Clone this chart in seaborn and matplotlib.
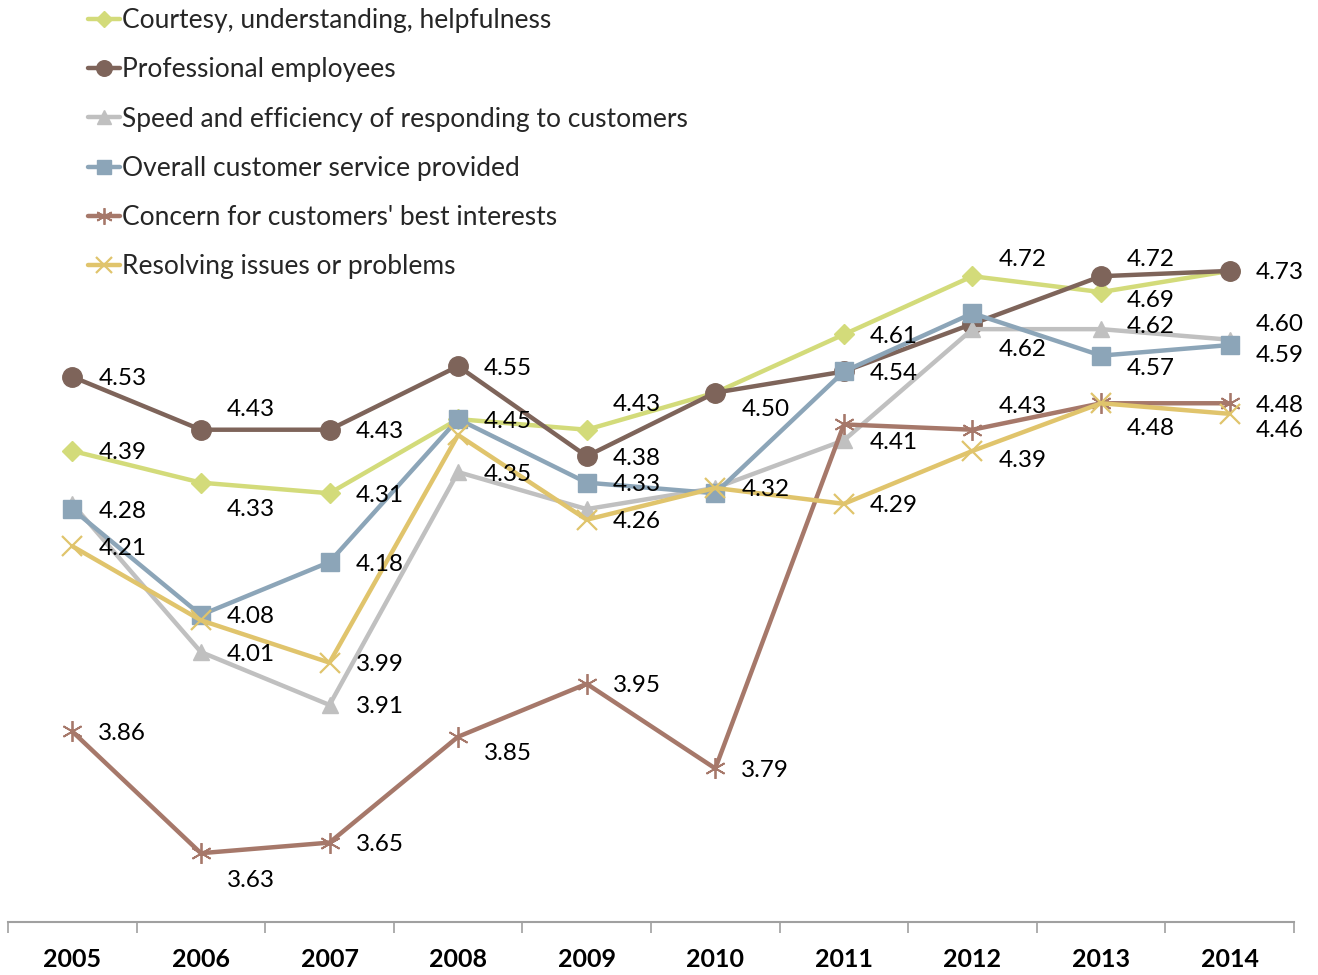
import matplotlib
matplotlib.use("Agg")
import matplotlib.pyplot as plt
import seaborn as sns
import pandas as pd

# ---- data -------------------------------------------------------------
years = [2005, 2006, 2007, 2008, 2009, 2010, 2011, 2012, 2013, 2014]

series_names = [
    "Courtesy, understanding, helpfulness",
    "Professional employees",
    "Speed and efficiency of responding to customers",
    "Overall customer service provided",
    "Concern for customers' best interests",
    "Resolving issues or problems",
]

courtesy     = [4.39, 4.33, 4.31, 4.45, 4.43, 4.50, 4.61, 4.72, 4.69, 4.73]
professional = [4.53, 4.43, 4.43, 4.55, 4.38, 4.50, 4.54, 4.63, 4.72, 4.73]
speed        = [4.29, 4.01, 3.91, 4.35, 4.28, 4.32, 4.41, 4.62, 4.62, 4.60]
overall      = [4.28, 4.08, 4.18, 4.45, 4.33, 4.31, 4.54, 4.65, 4.57, 4.59]
concern      = [3.86, 3.63, 3.65, 3.85, 3.95, 3.79, 4.44, 4.43, 4.48, 4.48]
resolving    = [4.21, 4.07, 3.99, 4.42, 4.26, 4.32, 4.29, 4.39, 4.48, 4.46]

all_values = [courtesy, professional, speed, overall, concern, resolving]

# ---- styling ----------------------------------------------------------
colors = ["#D3DB7A", "#7E645A", "#C0C0C0", "#8CA5B8", "#A6786A", "#E0C46C"]
markers = ["D", "o", "^", "s", (6, 2, 0), "x"]
msizes = [10, 14, 12, 13, 15, 14]
mews = [1, 1, 1, 1, 1.3, 1.6]

# which points carry a value label, and the label's vertical shift (pixels, +down)
label_shift = [
    {0: 0, 1: 25, 2: 0, 3: 0, 4: -27, 6: 0, 7: -19, 8: 6},
    {0: 0, 1: -22, 2: 0, 3: 0, 4: 0, 5: 15, 8: -19, 9: 0},
    {1: 0, 2: 0, 3: 0, 6: 0, 7: 18, 8: -5, 9: -17},
    {0: 0, 1: 0, 2: 0, 4: 0, 6: 0, 8: 11, 9: 8},
    {0: 0, 1: 25, 2: 0, 3: 15, 4: 0, 5: 0, 7: -25, 9: 0},
    {0: 0, 2: 0, 4: 0, 5: 0, 6: 0, 7: 8, 8: 23, 9: 15},
]

sns.set_theme(style="white")
plt.rcParams["font.family"] = ["Lato", "DejaVu Sans"]

W, H = 1318, 975
fig = plt.figure(figsize=(W / 100, H / 100), dpi=100)
ax = fig.add_axes([8 / W, (H - 922) / H, 1286 / W, (922 - 128) / H])

xpos = list(range(len(years)))
for name, vals, c, m, ms, mew in zip(series_names, all_values, colors, markers, msizes, mews):
    df = pd.DataFrame({"x": xpos, "value": vals})
    sns.lineplot(
        data=df, x="x", y="value", ax=ax, color=c, linewidth=3.2,
        marker=m, markersize=ms, markeredgecolor=c, markerfacecolor=c,
        markeredgewidth=mew, label=name,
    )

for vals, shifts in zip(all_values, label_shift):
    for i, dy in shifts.items():
        ax.annotate(f"{vals[i]:.2f}", (i, vals[i]), xytext=(26, -dy - 2),
                    textcoords="offset pixels", ha="left", va="center",
                    fontsize=17.5, color="black")

ax.set_xlim(-0.5, 9.5)
ax.set_ylim(3.5, 5.0)
ax.set_xlabel("")
ax.set_ylabel("")
ax.set_yticks([])
ax.set_xticks(xpos)
ax.set_xticklabels([str(y) for y in years], fontsize=18, fontweight="bold", color="black")
ax.set_xticks([i - 0.5 for i in range(len(years) + 1)], minor=True)
ax.tick_params(axis="x", which="major", bottom=False, length=0, pad=19)
ax.tick_params(axis="x", which="minor", bottom=True, length=8, width=1.2,
               color="#A0A0A0", direction="out")
for s in ["left", "top", "right"]:
    ax.spines[s].set_visible(False)
ax.spines["bottom"].set_color("#A0A0A0")
ax.spines["bottom"].set_linewidth(1.5)

ax.get_legend().remove()
handles, labels = ax.get_legend_handles_labels()
leg = fig.legend(handles, labels, loc="upper left", bbox_to_anchor=(88 / W, 1 - 8 / H),
                 frameon=False, fontsize=19, handlelength=1.2, handletextpad=0.08,
                 labelspacing=0.92, borderpad=0, borderaxespad=0, markerscale=0.8)

fig.savefig("out.png", dpi=100)
